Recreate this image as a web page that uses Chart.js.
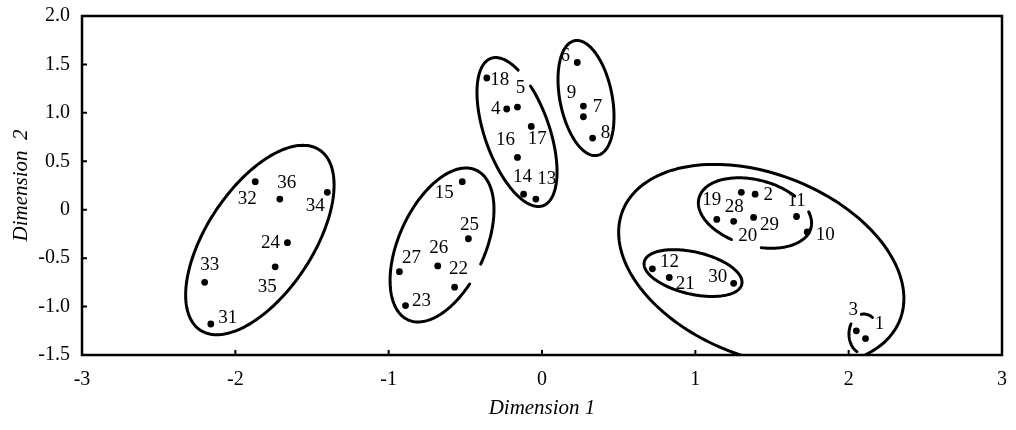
<!DOCTYPE html>
<html>
<head>
<meta charset="utf-8">
<script src="https://cdn.jsdelivr.net/npm/chart.js@4.4.1/dist/chart.umd.min.js"></script>
<style>
  html, body { margin: 0; padding: 0; background: #fff; }
  #wrap { width: 1016px; height: 430px; }
</style>
</head>
<body>
<div id="wrap"><canvas id="mdsChart" width="1016" height="430"></canvas></div>
<script>
// sample numbers and their coordinates on the two dimensions
const sampleIds = ["1", "2", "3", "4", "5", "6", "7", "8", "9", "10", "11", "12",
	"13", "14", "15", "16", "17", "18", "19", "20", "21", "22", "23", "24",
	"25", "26", "27", "28", "29", "30", "31", "32", "33", "34", "35", "36"];
const dim1 = [2.11, 1.39, 2.05, -0.23, -0.16, 0.23, 0.27, 0.33, 0.27, 1.73, 1.66, 0.72,
	-0.04, -0.12, -0.52, -0.16, -0.07, -0.36, 1.14, 1.25, 0.83, -0.57, -0.89, -1.66,
	-0.48, -0.68, -0.93, 1.30, 1.38, 1.25, -2.16, -1.87, -2.20, -1.40, -1.74, -1.71];
const dim2 = [-1.33, 0.16, -1.25, 1.04, 1.06, 1.52, 0.96, 0.74, 1.07, -0.23, -0.07, -0.61,
	0.11, 0.16, 0.29, 0.54, 0.86, 1.36, -0.10, -0.12, -0.70, -0.80, -0.99, -0.34,
	-0.30, -0.58, -0.64, 0.18, -0.08, -0.76, -1.18, 0.29, -0.75, 0.18, -0.59, 0.11];

const xTicks = [-3, -2, -1, 0, 1, 2, 3];
const yTicks = [-1.5, -1.0, -0.5, 0, 0.5, 1.0, 1.5, 2.0];

// cluster outlines: centre, semi-axis vectors (data units), arcs drawn (degrees)
const ellipseCentres = [[-1.840, -0.313], [-0.652, -0.364], [-0.163, 0.802], [0.287, 1.153],
	[1.430, -0.575], [1.389, -0.034], [0.985, -0.654], [2.100, -1.283]];
const ellipseMajor = [[0.389, 0.930], [0.222, 0.773], [0.169, -0.761], [0.074, -0.592],
	[0.905, -0.560], [0.365, -0.155], [0.318, -0.116], [0.098, 0]];
const ellipseMinor = [[0.288, -0.302], [0.256, -0.185], [0.199, 0.110], [0.167, 0.053],
	[-0.215, -0.880], [-0.055, -0.329], [-0.031, -0.212], [0, -0.206]];
const ellipseArcs = [[[0, 360]], [[107, 452]], [[138, 481]], [[0, 360]],
	[[0, 360]], [[-27, 76], [106, 306]], [[0, 360]], [[118, 210], [260, 304]]];

// where each number sits relative to its dot (px)
const labelOffsets = [[14, -15], [13, 1], [-3, -21], [-11, 0], [3, -19], [-12, -6], [14, -10], [13, -5],
	[-12, -13], [18, 3], [0, -15], [17, -7], [11, -20], [-1, -17], [-18, 11], [-12, -17],
	[6, 13], [13, 2], [-5, -19], [14, 15], [16, 7], [4, -18], [16, -5], [-17, 0],
	[1, -14], [1, -18], [12, -14], [-7, 15], [16, 8], [-16, -6], [17, -6], [-8, 17],
	[5, -17], [-12, 14], [-8, 20], [7, -16]];

const serif = "'Liberation Serif', 'Times New Roman', serif";

const outlinePlugin = {
	id: "outlines",
	afterDatasetsDraw(chart) {
		const { ctx, chartArea, scales } = chart;
		const xs = scales.x, ys = scales.y;
		ctx.save();
		ctx.beginPath();
		ctx.rect(chartArea.left, chartArea.top, chartArea.right - chartArea.left, chartArea.bottom - chartArea.top);
		ctx.clip();
		ctx.strokeStyle = "#000";
		ctx.lineWidth = 3;
		ctx.lineCap = "round";
		ctx.lineJoin = "round";
		ellipseCentres.forEach((c, i) => {
			const M = ellipseMajor[i], m = ellipseMinor[i];
			ellipseArcs[i].forEach(([t0, t1]) => {
				ctx.beginPath();
				for (let t = t0; t <= t1; t += 2) {
					const r = t * Math.PI / 180;
					const px = xs.getPixelForValue(c[0] + M[0] * Math.cos(r) + m[0] * Math.sin(r));
					const py = ys.getPixelForValue(c[1] + M[1] * Math.cos(r) + m[1] * Math.sin(r));
					if (t === t0) ctx.moveTo(px, py); else ctx.lineTo(px, py);
				}
				ctx.stroke();
			});
		});
		ctx.restore();

		// sample numbers
		ctx.save();
		ctx.fillStyle = "#000";
		ctx.font = "19px " + serif;
		ctx.textAlign = "center";
		ctx.textBaseline = "middle";
		sampleIds.forEach((id, i) => {
			const px = xs.getPixelForValue(dim1[i]) + labelOffsets[i][0];
			const py = ys.getPixelForValue(dim2[i]) + labelOffsets[i][1];
			ctx.fillText(id, px, py);
		});
		ctx.restore();

		// frame and inward ticks
		ctx.save();
		ctx.strokeStyle = "#000";
		ctx.lineWidth = 2.5;
		ctx.strokeRect(chartArea.left, chartArea.top, chartArea.right - chartArea.left, chartArea.bottom - chartArea.top);
		ctx.lineWidth = 2;
		ctx.beginPath();
		xs.ticks.forEach((tk, i) => {
			if (i === 0 || i === xs.ticks.length - 1) return;
			const px = xs.getPixelForTick(i);
			ctx.moveTo(px, chartArea.bottom);
			ctx.lineTo(px, chartArea.bottom - 5);
		});
		ys.ticks.forEach((tk, i) => {
			if (i === 0 || i === ys.ticks.length - 1) return;
			const py = ys.getPixelForTick(i);
			ctx.moveTo(chartArea.left, py);
			ctx.lineTo(chartArea.left + 5, py);
		});
		ctx.stroke();
		ctx.restore();
	}
};

const points = dim1.map((x, i) => ({ x: x, y: dim2[i] }));

new Chart(document.getElementById("mdsChart"), {
	type: "scatter",
	data: {
		datasets: [{
			data: points,
			pointRadius: 3.4,
			pointBackgroundColor: "#000",
			pointBorderColor: "#000",
			pointBorderWidth: 0,
			pointHoverRadius: 3.4,
		}],
	},
	options: {
		responsive: false,
		animation: false,
		devicePixelRatio: 1,
		layout: { padding: { top: 16, right: 14, left: 0, bottom: 0 } },
		plugins: { legend: { display: false }, tooltip: { enabled: false } },
		scales: {
			x: {
				type: "linear",
				min: xTicks[0],
				max: xTicks[xTicks.length - 1],
				afterBuildTicks: (s) => { s.ticks = xTicks.map((v) => ({ value: v })); },
				afterFit: (s) => { s.height = 75; },
				grid: { display: false },
				border: { display: false },
				ticks: { color: "#000", font: { family: serif, size: 20 }, padding: 5, maxRotation: 0 },
				title: {
					display: true,
					text: "Dimension 1",
					color: "#000",
					font: { family: serif, size: 21, style: "italic" },
					padding: { top: 0, bottom: 9 },
				},
			},
			y: {
				type: "linear",
				min: yTicks[0],
				max: yTicks[yTicks.length - 1],
				afterBuildTicks: (s) => { s.ticks = yTicks.map((v) => ({ value: v })); },
				afterFit: (s) => { s.width = 82; },
				grid: { display: false },
				border: { display: false },
				ticks: {
					color: "#000",
					font: { family: serif, size: 20 },
					padding: 4,
					callback: (v) => (v === 0 ? "0" : v.toFixed(1)),
				},
				title: {
					display: true,
					text: "Dimension  2",
					color: "#000",
					font: { family: serif, size: 21, style: "italic" },
					padding: { top: 9, bottom: 0 },
				},
			},
		},
	},
	plugins: [outlinePlugin],
});
</script>
</body>
</html>
